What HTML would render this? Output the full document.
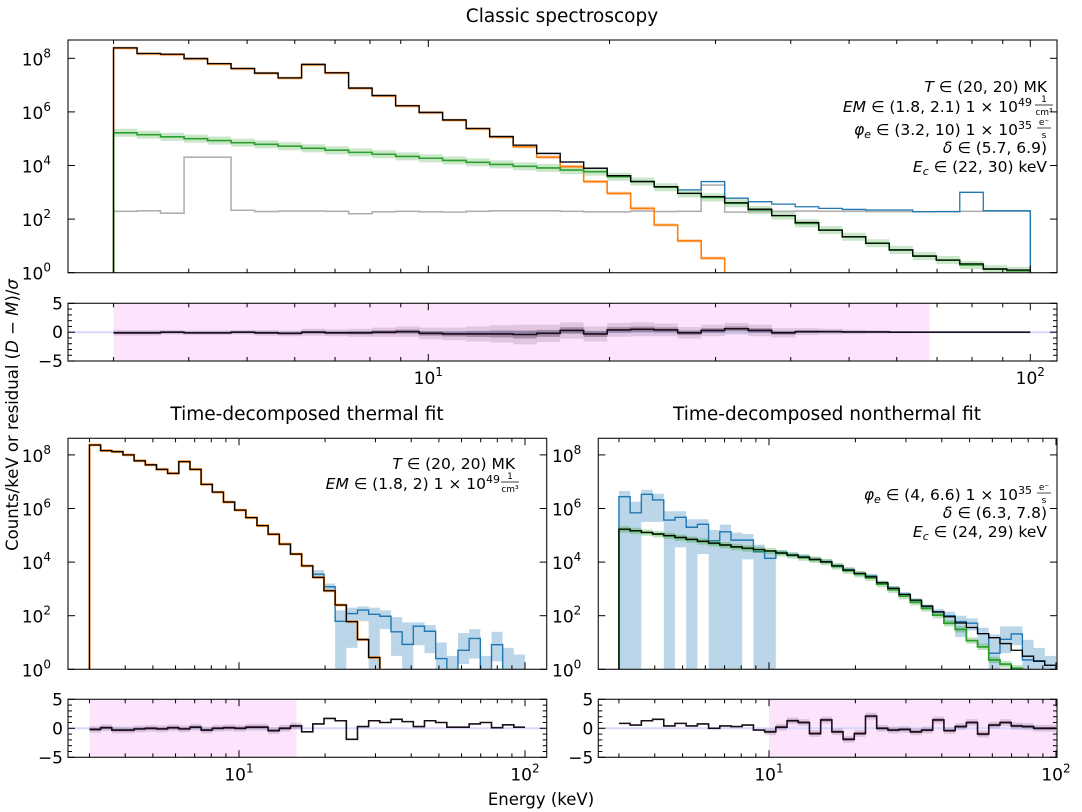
<!DOCTYPE html>
<html><head><meta charset="utf-8"><style>
html,body{margin:0;padding:0;background:#fff}
svg{display:block;font-family:"DejaVu Sans","Liberation Sans",sans-serif}
</style></head><body>
<svg id="fig" width="1082" height="812" viewBox="0 0 1082 812" xmlns="http://www.w3.org/2000/svg">
<text x="562" y="22" text-anchor="middle" font-size="18.5">Classic spectroscopy</text>
<text x="307" y="420" text-anchor="middle" font-size="18.5">Time-decomposed thermal fit</text>
<text x="827" y="420" text-anchor="middle" font-size="18.5">Time-decomposed nonthermal fit</text>
<text transform="translate(18,415) rotate(-90)" text-anchor="middle" font-size="16.5">Counts/keV or residual (<tspan font-style="italic">D</tspan> − <tspan font-style="italic">M</tspan>)/<tspan font-style="italic">σ</tspan></text>
<text x="541" y="805" text-anchor="middle" font-size="16.5">Energy (keV)</text>
<g font-size="15.5" text-anchor="end">
<text x="1047" y="92"><tspan font-style="italic">T</tspan> ∈ (20, 20) MK</text>
<text x="1032" y="112"><tspan font-style="italic">EM</tspan> ∈ (1.8, 2.1) 1 × 10<tspan dy="-6" font-size="11">49</tspan></text>
<text x="1044" y="102" font-size="9" text-anchor="middle">1</text><line x1="1035" y1="105" x2="1053" y2="105" stroke="#000" stroke-width="0.7"/><text x="1044" y="115" font-size="9" text-anchor="middle">cm³</text>
<text x="1032" y="135"><tspan font-style="italic">φ<tspan font-size="11" dy="3">e</tspan></tspan><tspan dy="-3"> ∈ (3.2, 10) 1 × 10</tspan><tspan dy="-6" font-size="11">35</tspan></text>
<text x="1044" y="125" font-size="9" text-anchor="middle">e⁻</text><line x1="1037" y1="128" x2="1051" y2="128" stroke="#000" stroke-width="0.7"/><text x="1044" y="138" font-size="9" text-anchor="middle">s</text>
<text x="1047" y="153"><tspan font-style="italic">δ</tspan> ∈ (5.7, 6.9)</text>
<text x="1047" y="172"><tspan font-style="italic">E<tspan font-size="11" dy="3">c</tspan></tspan><tspan dy="-3"> ∈ (22, 30) keV</tspan></text>
</g>
<g font-size="15.5" text-anchor="end">
<text x="515" y="469"><tspan font-style="italic">T</tspan> ∈ (20, 20) MK</text>
<text x="500" y="489"><tspan font-style="italic">EM</tspan> ∈ (1.8, 2) 1 × 10<tspan dy="-6" font-size="11">49</tspan></text>
<text x="510" y="479" font-size="9" text-anchor="middle">1</text><line x1="501" y1="482" x2="519" y2="482" stroke="#000" stroke-width="0.7"/><text x="510" y="492" font-size="9" text-anchor="middle">cm³</text>
</g>
<g font-size="15.5" text-anchor="end">
<text x="1032" y="500"><tspan font-style="italic">φ<tspan font-size="11" dy="3">e</tspan></tspan><tspan dy="-3"> ∈ (4, 6.6) 1 × 10</tspan><tspan dy="-6" font-size="11">35</tspan></text>
<text x="1044" y="490" font-size="9" text-anchor="middle">e⁻</text><line x1="1037" y1="493" x2="1051" y2="493" stroke="#000" stroke-width="0.7"/><text x="1044" y="503" font-size="9" text-anchor="middle">s</text>
<text x="1047" y="518"><tspan font-style="italic">δ</tspan> ∈ (6.3, 7.8)</text>
<text x="1047" y="537"><tspan font-style="italic">E<tspan font-size="11" dy="3">c</tspan></tspan><tspan dy="-3"> ∈ (24, 29) keV</tspan></text>
</g>
</svg>
<script>
// ---- data (log10 counts/keV; null = below axis) ----
const nBins = 39;
const eMin = 3, eMax = 100;
const topTotal = [8.39,8.18,8.15,7.99,7.80,7.62,7.45,7.27,7.77,7.46,6.89,6.61,6.23,5.98,5.70,5.38,5.08,4.76,4.45,4.13,3.90,3.62,3.40,3.21,2.96,2.84,2.61,2.37,2.13,1.87,1.59,1.34,1.10,0.85,0.62,0.47,0.33,0.14,0.10];
const topThermal = [8.38,8.17,8.14,7.98,7.79,7.61,7.44,7.26,7.76,7.45,6.88,6.60,6.22,5.97,5.69,5.37,5.06,4.70,4.31,3.96,3.40,2.96,2.40,1.78,1.19,0.54,null,null,null,null,null,null,null,null,null,null,null,null,null];
const topNonthermal = [5.22,5.15,5.07,5.00,4.93,4.85,4.79,4.72,4.64,4.57,4.49,4.42,4.34,4.27,4.19,4.12,4.04,3.97,3.91,3.83,3.77,3.58,3.40,3.19,2.96,2.81,2.59,2.34,2.13,1.84,1.59,1.34,1.10,0.85,0.62,0.47,0.29,0.13,0.07];
const topBackground = [2.29,2.31,2.22,4.31,4.31,2.33,2.28,2.30,2.30,2.29,2.20,2.27,2.29,2.27,2.26,2.29,2.31,2.31,2.31,2.29,2.27,2.27,2.30,2.28,2.29,3.27,2.26,2.28,2.29,2.30,2.29,2.29,2.28,2.28,2.27,2.28,2.29,2.30,2.30];
const topData = [8.39,8.18,8.15,7.99,7.80,7.62,7.45,7.27,7.77,7.46,6.89,6.61,6.23,5.98,5.70,5.38,5.08,4.76,4.45,4.13,3.90,3.62,3.40,3.21,3.09,3.40,2.78,2.65,2.56,2.46,2.40,2.36,2.34,2.34,2.28,2.28,3.00,2.31,2.31];
const topResidual = [-0.1,-0.1,0,-0.1,-0.1,0,-0.1,-0.2,0,-0.1,-0.1,0,0.1,-0.2,-0.3,-0.3,-0.3,-0.4,-0.2,0.3,-0.3,0.4,0.5,0.4,-0.1,0.3,0.6,0.3,-0.1,0.1,0.1,0.05,0.05,0,0,0,0,0,0];
const topResidualSpread = [0.5,0.5,0.4,0.4,0.4,0.4,0.5,0.5,0.6,0.6,0.7,0.8,0.9,1.0,1.1,1.3,1.5,1.7,1.5,1.4,1.3,1.2,1.2,1.1,1.0,1.0,1.0,1.0,0.8,0.6,0.5,0.4,0.3,0.2,0.1,0.1,0.1,0.1,0.1];
const topFitRange = [3, 68];

const blModel = [8.37,8.16,8.12,8.0,7.78,7.63,7.46,7.31,7.75,7.46,6.90,6.61,6.24,5.94,5.66,5.36,5.04,4.67,4.30,3.86,3.43,2.93,2.40,1.78,1.11,0.44,null,null,null,null,null,null,null,null,null,null,null,null,null];
const blData = [8.37,8.16,8.12,8.0,7.78,7.63,7.46,7.31,7.75,7.46,6.90,6.61,6.24,5.94,5.66,5.36,5.04,4.67,4.30,3.86,3.55,3.08,1.79,2.08,2.21,2.05,1.98,1.40,0.93,1.61,1.42,0.40,null,0.71,1.15,null,0.92,null,null];
const blDataHi = [null,null,null,null,null,null,null,null,null,null,null,null,null,null,null,null,null,null,null,null,3.7,3.2,2.2,2.3,2.35,2.3,2.2,1.95,1.75,1.75,1.65,1.0,0.5,1.35,1.5,0.5,1.4,0.8,0.55];
const blDataLo = [null,null,null,null,null,null,null,null,null,null,null,null,null,null,null,null,null,null,null,null,3.4,2.9,-1,0.8,1.8,-1,1.5,0.5,-1,0.9,0.6,-1,-1,0.2,0.4,-1,0.3,-1,-1];
const blResidual = [-0.2,0.1,-0.3,-0.3,-0.1,0,-0.1,0.1,-0.1,0.2,-0.3,0,0.1,0,0.2,0.2,-0.4,0,0.4,-0.6,0.75,1.7,1.3,-1.9,0.3,1.3,1.0,1.55,1.15,0.3,1.3,1.0,0.2,0.2,0.75,1.0,0.1,0.6,0.2];
const blFitRange = [3, 15.9];

const brModel = [5.23,5.17,5.11,5.05,4.99,4.92,4.85,4.78,4.71,4.64,4.57,4.52,4.47,4.42,4.34,4.26,4.18,4.10,4.01,3.86,3.70,3.58,3.45,3.23,3.02,2.79,2.58,2.36,2.14,1.96,1.73,1.56,1.33,1.18,0.96,0.71,0.49,0.30,0.15];
const brNonthermal = [5.22,5.16,5.10,5.04,4.98,4.91,4.84,4.77,4.70,4.63,4.56,4.51,4.46,4.41,4.33,4.25,4.17,4.09,4.00,3.84,3.68,3.55,3.41,3.18,2.97,2.73,2.50,2.27,2.02,1.72,1.49,1.07,0.84,0.35,0.19,0.04,null,null,null];
const brData = [6.44,5.84,6.53,6.32,5.57,5.67,5.30,5.41,4.80,5.13,4.82,4.82,4.39,4.14,4.36,4.27,4.20,4.10,4.02,3.86,3.72,3.56,3.48,3.22,3.03,2.80,2.57,2.34,2.15,2.00,1.78,1.72,1.33,0.60,1.12,1.32,0.35,0.32,0.15];
const brDataHi = [6.65,6.25,6.7,6.55,5.9,5.9,5.6,5.6,5.2,5.4,5.1,5.05,4.65,4.4,4.44,4.35,4.28,4.18,4.10,3.94,3.80,3.64,3.56,3.30,3.11,2.88,2.65,2.42,2.25,2.15,2.0,1.9,1.55,1.3,1.6,1.6,1.1,0.8,0.5];
const brDataLo = [-1,-1,5.5,5.5,-1,4.55,-1,4.3,-1,-1,-1,4.1,-1,-1,4.28,4.19,4.12,4.02,3.94,3.78,3.64,3.48,3.40,3.14,2.95,2.72,2.49,2.26,2.0,1.7,1.2,1.45,0.9,-1,0.6,0.9,-1,-1,-1];
const brResidual = [0.85,0.55,1.3,1.55,0.4,0.85,0.4,0.75,0,0.4,0.3,0.55,-0.3,-0.6,0.2,1.3,1.0,-0.9,1.45,-0.6,-1.9,-0.9,2.1,0,-0.3,-0.2,-0.6,-0.3,1.45,-0.4,0.3,1.0,-1.0,0.55,1.0,0.4,0.3,0,0];
const brFitRange = [10, 100];

// ---- helpers ----
const NS = "http://www.w3.org/2000/svg";
const svg = document.getElementById('fig');
function mk(tag, attrs, parent){const e=document.createElementNS(NS,tag);for(const k in attrs)e.setAttribute(k,attrs[k]);(parent||svg).appendChild(e);return e;}
const lgMin=Math.log10(eMin), lgStep=(Math.log10(eMax)-Math.log10(eMin))/nBins;
function edge(i){return Math.pow(10,lgMin+i*lgStep);}
function makeX(x10,dec){return e=>x10+(Math.log10(e)-1)*dec;}
let clipId=0;
function panel(name,x0,x1,y0,y1){
  const g=mk('g',{});
  
  
  const id='clip'+(clipId++);
  const cp=mk('clipPath',{id:id},g);mk('rect',{x:x0,y:y0,width:x1-x0,height:y1-y0},cp);
  const inner=mk('g',{'clip-path':'url(#'+id+')'},g);
  return {g,inner,x0,x1,y0,y1};
}
function stepPath(vals,X,Y,floorY){
  let d='M'+X(edge(0)).toFixed(2)+','+floorY;
  for(let i=0;i<vals.length;i++){
    const v=vals[i];const y=(v===null)?floorY+20:Y(v);
    d+='L'+X(edge(i)).toFixed(2)+','+y.toFixed(2)+'L'+X(edge(i+1)).toFixed(2)+','+y.toFixed(2);
  }
  d+='L'+X(edge(vals.length)).toFixed(2)+','+floorY;
  return d;
}
function band(parent,vals,spread,X,Y,floorY,color,op,name){
  for(let i=0;i<vals.length;i++){
    if(vals[i]===null)continue;
    const a=Y(vals[i]+spread),b=Y(vals[i]-spread);
    const r=mk('rect',{x:X(edge(i)),y:a,width:X(edge(i+1))-X(edge(i)),height:b-a,fill:color,opacity:op},parent);
    
    
  }
}
function hiLoBand(parent,hi,lo,X,Y,floorY,name){
  for(let i=0;i<hi.length;i++){
    if(hi[i]===null)continue;
    const a=Y(hi[i]);const b=(lo[i]===null||lo[i]<0)?floorY+5:Y(lo[i]);
    const r=mk('rect',{x:X(edge(i)),y:a,width:X(edge(i+1))-X(edge(i)),height:b-a,fill:'#1f77b4',opacity:0.3},parent);
    
    
  }
}
function line(parent,vals,X,Y,floorY,color,w,name){
  const p=mk('path',{d:stepPath(vals,X,Y,floorY),fill:'none',stroke:color,'stroke-width':w,'stroke-linejoin':'miter'},parent);
  
  
}
function xTicks(P,X,lo,hi,labels){
  for(let dec=lo;dec<=hi;dec++){
    for(let m=1;m<10;m++){
      const e=m*Math.pow(10,dec);const x=X(e);
      if(x<P.x0+0.5||x>P.x1-0.5)continue;
      const L=(m===1)?7:4;
      mk('line',{x1:x,y1:P.y1,x2:x,y2:P.y1-L,stroke:'#000','stroke-width':1},P.g);
      mk('line',{x1:x,y1:P.y0,x2:x,y2:P.y0+L,stroke:'#000','stroke-width':1},P.g);
      if(labels&&m===1){
        const t=mk('text',{x:x,y:P.y1+23,'text-anchor':'middle','font-size':17},P.g);
        
        
        t.textContent='10';
        const s=mk('tspan',{dy:-8,'font-size':12},t);s.textContent=String(dec);
      }
    }
  }
}
function yLogTicks(P,Y){
  for(let k=0;k<=8;k+=2){
    const y=Y(k);
    mk('line',{x1:P.x0,y1:y,x2:P.x0+7,y2:y,stroke:'#000','stroke-width':1},P.g);
    mk('line',{x1:P.x1,y1:y,x2:P.x1-7,y2:y,stroke:'#000','stroke-width':1},P.g);
    const t=mk('text',{x:P.x0-17,y:y+7,'text-anchor':'end','font-size':17},P.g);
    
    
    t.textContent='10';
    const s=mk('tspan',{dy:-8,'font-size':12},t);s.textContent=String(k);
  }
}
function yResTicks(P,Y){
  for(let v=-5;v<=5;v++){
    const y=Y(v);const L=(v%5===0)?7:4;
    mk('line',{x1:P.x0,y1:y,x2:P.x0+L,y2:y,stroke:'#000','stroke-width':1},P.g);
    mk('line',{x1:P.x1,y1:y,x2:P.x1-L,y2:y,stroke:'#000','stroke-width':1},P.g);
  }
  [5,0,-5].forEach(v=>{
    const t=mk('text',{x:P.x0-5,y:Y(v)+6,'text-anchor':'end','font-size':17},P.g);
    
    
    t.textContent=(v<0?'−':'')+Math.abs(v);
  });
}
function frame(P){mk('rect',{x:P.x0,y:P.y0,width:P.x1-P.x0,height:P.y1-P.y0,fill:'none',stroke:'#222','stroke-width':1.2},P.g);}
function residualPanel(name,P,X,Y,res,spread,range){
  const pk=mk('rect',{x:X(range[0]),y:P.y0,width:X(range[1])-X(range[0]),height:P.y1-P.y0,fill:'#fde4fd'},P.inner);
  
  
  mk('line',{x1:P.x0,y1:Y(0),x2:P.x1,y2:Y(0),stroke:'#d8d8ff','stroke-width':2},P.inner);
  for(let i=0;i<res.length;i++){
    const e0=edge(i),e1=edge(i+1);
    const inR=(e1>range[0]*1.01&&e0<range[1]*0.99);
    const s=spread?spread[i]:(inR?0.6:0);
    if(s>0){
      const a=Y(res[i]+s),b=Y(res[i]-s);
      const r=mk('rect',{x:X(e0),y:a,width:X(e1)-X(e0),height:b-a,fill:'#3a1a3a',opacity:0.15},P.inner);
      
      
      const a2=Y(res[i]+s*0.4),b2=Y(res[i]-s*0.4);
      mk('rect',{x:X(e0),y:a2,width:X(e1)-X(e0),height:b2-a2,fill:'#3a1a3a',opacity:0.35},P.inner);
    }
  }
  let d='';
  for(let i=0;i<res.length;i++){d+=(i?'L':'M')+X(edge(i)).toFixed(2)+','+Y(res[i]).toFixed(2)+'L'+X(edge(i+1)).toFixed(2)+','+Y(res[i]).toFixed(2);}
  const p=mk('path',{d:d,fill:'none',stroke:'#1a0d1a','stroke-width':1.6},P.inner);
  
  
}

// ---- top spectrum ----
{
  const P=panel('classic-spectrum-panel',68,1057,40,272.7);
  const X=makeX(428.3,602), Y=v=>272.7-v*26.8, F=272.7;
  band(P.inner,topNonthermal,0.15,X,Y,F,'#2ca02c',0.25,'nonthermal-band');
  band(P.inner,topThermal,0.06,X,Y,F,'#ff7f0e',0.35,'thermal-band');
  line(P.inner,topBackground,X,Y,F,'#b0b0b0',1.6,'background-line');
  line(P.inner,topData,X,Y,F,'#1f77b4',1.3,'data-line');
  line(P.inner,topThermal,X,Y,F,'#ff7f0e',1.6,'thermal-model-line');
  line(P.inner,topNonthermal,X,Y,F,'#2ca02c',1.6,'nonthermal-model-line');
  line(P.inner,topTotal,X,Y,F,'#000',1.3,'total-model-line');
  frame(P);xTicks(P,X,0,2,false);yLogTicks(P,Y);
  const R=panel('classic-residual-panel',68,1057,303.3,361);
  const YR=v=>332.2-v*5.77;
  residualPanel('classic-residual-line',R,X,YR,topResidual,topResidualSpread,topFitRange);
  frame(R);xTicks(R,X,0,2,true);yResTicks(R,YR);
}
// ---- bottom-left thermal ----
{
  const P=panel('thermal-spectrum-panel',68,546.7,438.3,669.3);
  const X=makeX(239,286), Y=v=>669.3-v*26.8, F=669.3;
  hiLoBand(P.inner,blDataHi,blDataLo,X,Y,F,'data-error-band');
  line(P.inner,blData,X,Y,F,'#1f77b4',1.4,'data-line');
  band(P.inner,blModel,0.06,X,Y,F,'#ff7f0e',0.4,'thermal-band');
  line(P.inner,blModel,X,Y,F,'#ff7f0e',2,'thermal-model-line');
  line(P.inner,blModel,X,Y,F,'#000',1.3,'total-model-line');
  frame(P);xTicks(P,X,0,2,false);yLogTicks(P,Y);
  const R=panel('thermal-residual-panel',68,546.7,699.3,757.3);
  const YR=v=>728.3-v*5.8;
  residualPanel('thermal-residual-line',R,X,YR,blResidual,null,blFitRange);
  frame(R);xTicks(R,X,0,2,true);yResTicks(R,YR);
}
// ---- bottom-right nonthermal ----
{
  const P=panel('nonthermal-spectrum-panel',598.3,1057,438.3,669.3);
  const X=makeX(769,287), Y=v=>669.3-v*26.8, F=669.3;
  hiLoBand(P.inner,brDataHi,brDataLo,X,Y,F,'data-error-band');
  line(P.inner,brData,X,Y,F,'#1f77b4',1.4,'data-line');
  band(P.inner,brNonthermal,0.12,X,Y,F,'#2ca02c',0.3,'nonthermal-band');
  line(P.inner,brNonthermal,X,Y,F,'#2ca02c',1.8,'nonthermal-model-line');
  line(P.inner,brModel,X,Y,F,'#000',1.3,'total-model-line');
  frame(P);xTicks(P,X,0,2,false);yLogTicks(P,Y);
  const R=panel('nonthermal-residual-panel',598.3,1057,699.3,757.3);
  const YR=v=>728.3-v*5.8;
  residualPanel('nonthermal-residual-line',R,X,YR,brResidual,null,brFitRange);
  frame(R);xTicks(R,X,0,2,true);yResTicks(R,YR);
}
</script>
</body></html>
